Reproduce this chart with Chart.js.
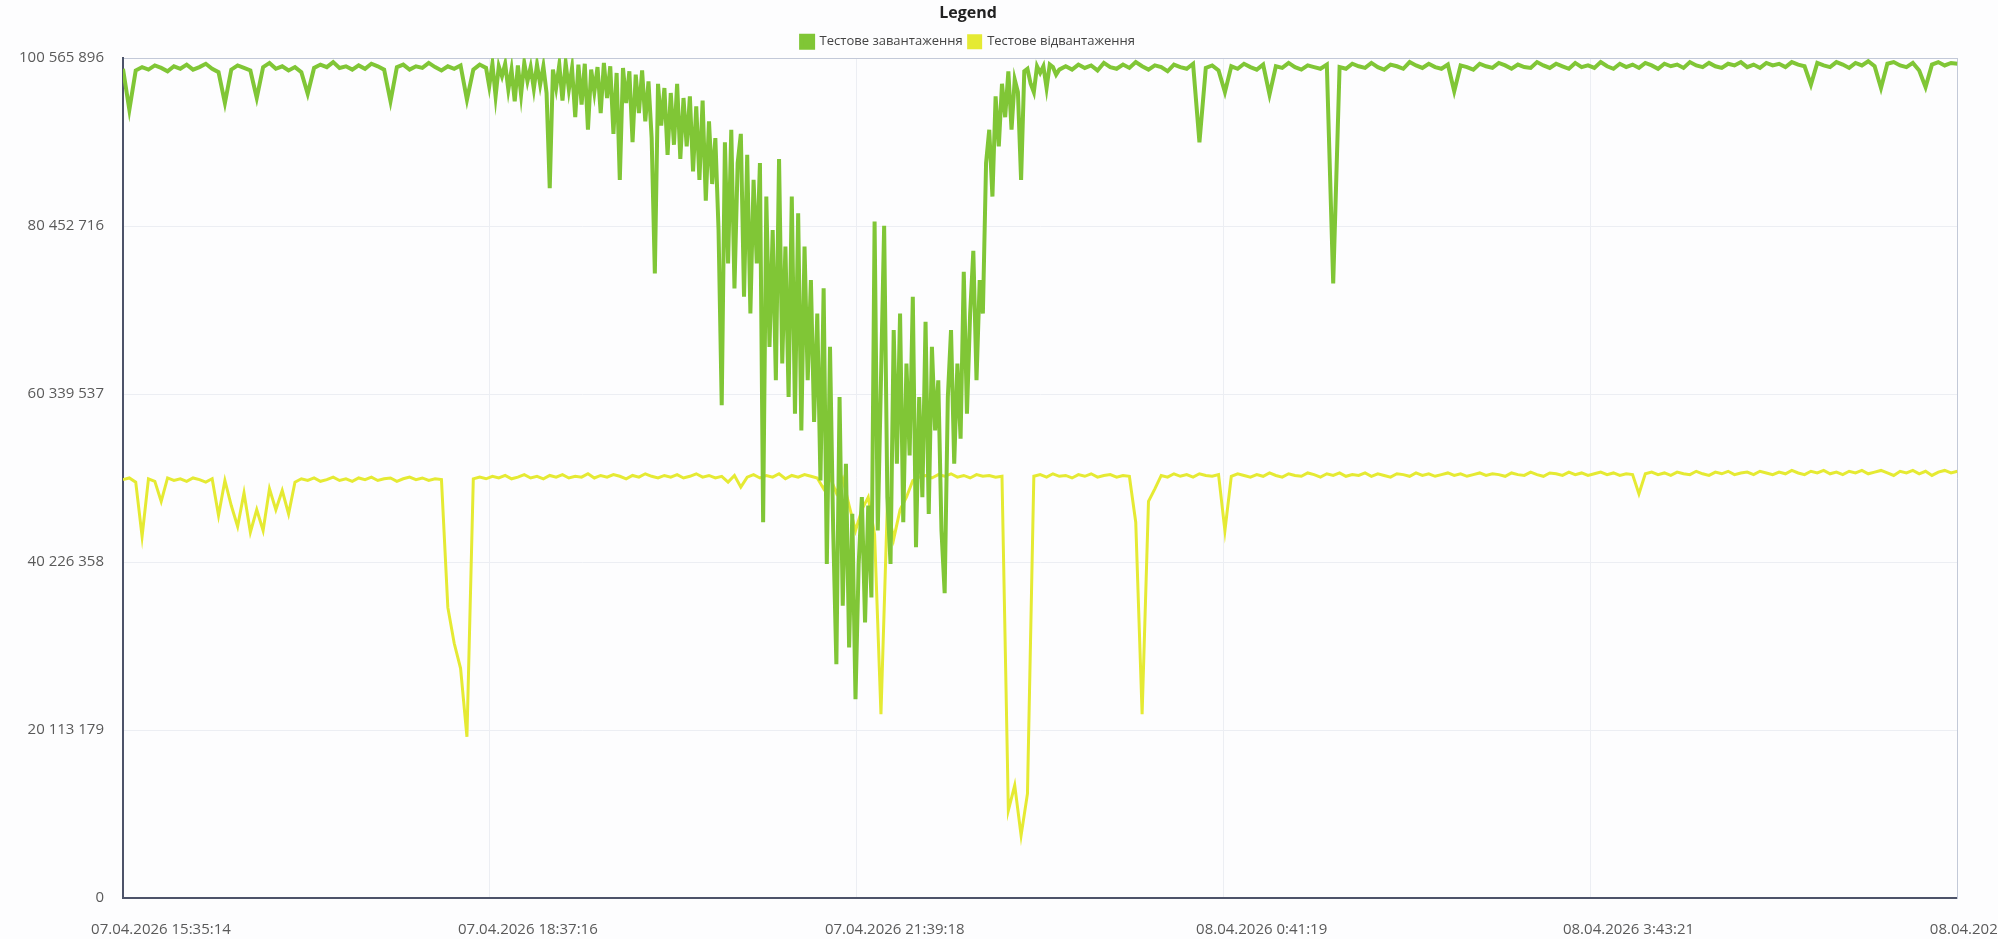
<!DOCTYPE html>
<html>
<head>
<meta charset="utf-8">
<title>Legend</title>
<script src="https://cdn.jsdelivr.net/npm/chart.js@4.4.1/dist/chart.umd.min.js"></script>
<style>
    html, body { margin: 0; padding: 0; background: #fdfdfe; overflow: hidden; }
    #contenedor { width: 2046px; height: 939px; position: relative; }
</style>
</head>
<body>
<div id="contenedor"><canvas id="graficaHistorial"></canvas></div>
<script>
// подписи осей, значения в миллионах
const xTickLabels = [
    "07.04.2026 15:35:14",
    "07.04.2026 18:37:16",
    "07.04.2026 21:39:18",
    "08.04.2026 0:41:19",
    "08.04.2026 3:43:21",
    "08.04.2026 6:45:23",
];
const yTickValues = [0, 20.113179, 40.226358, 60.339537, 80.452716, 100.565896];

const seriesNames = ["Тестове завантаження", "Тестове відвантаження"];

// завантаження: начало (шаг 1), провал (шаг 0.5), конец (шаг 1)
const verdeInicio = [
    99.3, 94.4, 99.1, 99.5, 99.2, 99.7, 99.4, 99.0, 99.6, 99.3,
    99.8, 99.2, 99.5, 99.9, 99.3, 98.9, 95.2, 99.2, 99.7, 99.4,
    99.1, 95.8, 99.5, 100.0, 99.3, 99.6, 99.1, 99.5, 98.9, 96.3,
    99.4, 99.8, 99.5, 100.1, 99.4, 99.6, 99.2, 99.7, 99.3, 99.9,
    99.6, 99.2, 95.4, 99.5, 99.8, 99.2, 99.6, 99.4, 100.0, 99.5,
    99.1, 99.6, 99.3, 99.7, 95.6, 99.2, 99.8
];

const verdeCaos = [
    99.4, 97.2, 99.9, 96.0, 99.6, 98.4, 99.9, 96.8, 99.2, 95.4,
    99.7, 96.2, 100.0, 97.8, 99.5, 96.9, 99.8, 97.4, 99.6, 96.4,
    85.0, 99.2, 97.0, 99.8, 95.5, 100.0, 96.8, 99.4, 93.5, 99.8,
    95.0, 99.9, 92.0, 99.2, 96.5, 99.5, 94.0, 100.0, 95.8, 99.6,
    91.5, 98.8, 86.0, 99.4, 95.2, 99.0, 90.5, 98.6, 94.0, 99.1,
    93.0, 97.8, 91.0, 74.8, 97.5, 92.5, 97.0, 89.0, 96.4, 90.2,
    97.5, 88.5, 95.8, 90.0, 96.0, 87.0, 94.8, 86.0, 95.5, 83.5,
    93.0, 85.5, 91.0, 80.0, 59.0, 90.5, 76.0, 92.0, 73.0, 88.0,
    91.5, 72.0, 89.0, 70.0, 86.0, 76.0, 88.0, 45.0, 84.0, 66.0,
    80.0, 62.0, 88.5, 64.0, 78.0, 60.0, 84.0, 58.0, 82.0, 56.0,
    78.0, 62.0, 74.0, 57.0, 70.0, 50.0, 73.0, 40.0, 66.0, 44.0,
    28.0, 60.0, 35.0, 52.0, 30.0, 46.0, 23.8, 40.0, 48.0, 33.0,
    47.0, 36.0, 81.0, 44.0, 62.0, 80.5, 48.0, 40.0, 68.0, 52.0,
    70.0, 45.0, 64.0, 53.0, 72.0, 42.0, 60.0, 48.0, 69.0, 46.0,
    66.0, 56.0, 62.0, 44.0, 36.5, 60.0, 68.0, 52.0, 64.0, 55.0,
    75.0, 58.0, 70.0, 77.5, 62.0, 74.0, 70.0, 88.0, 92.0, 84.0,
    96.0, 90.0, 97.5, 93.5, 99.0, 92.0, 98.0, 96.5, 86.0, 99.0,
    99.3, 97.5, 96.5, 99.6, 98.8, 99.6, 97.0, 99.8, 99.5, 98.6, 99.2
];

const verdeFin = [
    99.6, 99.2,
    99.8, 99.4, 99.7, 99.1, 100.0, 99.5, 99.3, 99.8, 99.4, 100.1,
    99.6, 99.2, 99.7, 99.5, 99.0, 99.8, 99.5, 99.3, 99.9, 90.5,
    99.4, 99.7, 99.1, 96.5, 99.6, 99.3, 99.9, 99.5, 99.2, 99.8,
    96.2, 99.6, 99.4, 100.0, 99.5, 99.2, 99.7, 99.5, 99.3, 99.8,
    73.6, 99.5, 99.3, 99.9, 99.6, 99.4, 100.0, 99.5, 99.2, 99.8,
    99.6, 99.3, 100.1, 99.7, 99.4, 99.9, 99.5, 99.3, 99.8, 96.6,
    99.7, 99.5, 99.2, 99.9, 99.6, 99.4, 100.0, 99.7, 99.3, 99.8,
    99.5, 99.4, 100.1, 99.7, 99.4, 99.9, 99.6, 99.3, 100.0, 99.5,
    99.7, 99.4, 100.1, 99.6, 99.3, 99.9, 99.5, 99.8, 99.4, 100.0,
    99.7, 99.3, 99.9, 99.6, 99.8, 99.4, 100.1, 99.7, 99.5, 100.0,
    99.6, 99.4, 99.9, 99.7, 100.1, 99.5, 99.8, 99.4, 100.0, 99.7,
    99.9, 99.5, 100.1, 99.8, 99.6, 97.4, 100.0, 99.7, 99.5, 100.1,
    99.8, 99.4, 100.0, 99.7, 100.2, 99.6, 97.0, 99.9, 100.1, 99.7,
    99.5, 100.0, 99.1, 97.1, 99.8, 100.1, 99.7, 100.0, 99.9
];

const vidvantazhennya = [
    50.1, 50.3, 49.8, 43.3, 50.2, 49.9, 47.5, 50.3, 50.0, 50.2,
    49.9, 50.3, 50.1, 49.8, 50.2, 45.8, 50.0, 47.0, 44.5, 48.5,
    43.8, 46.5, 44.0, 49.0, 46.5, 48.8, 46.0, 49.8, 50.2, 50.0,
    50.3, 49.9, 50.1, 50.4, 50.0, 50.2, 49.9, 50.3, 50.1, 50.4,
    50.0, 50.2, 50.3, 49.9, 50.2, 50.4, 50.1, 50.3, 50.0, 50.2,
    50.1, 34.8, 30.5, 27.5, 19.3, 50.2, 50.4, 50.2, 50.5, 50.3,
    50.6, 50.2, 50.4, 50.7, 50.3, 50.5, 50.2, 50.6, 50.4, 50.7,
    50.3, 50.5, 50.4, 50.8, 50.3, 50.6, 50.4, 50.7, 50.5, 50.2,
    50.6, 50.4, 50.8, 50.5, 50.3, 50.6, 50.4, 50.7, 50.3, 50.5,
    50.8, 50.4, 50.6, 50.3, 50.5, 49.8, 50.6, 49.2, 50.4, 50.7,
    50.3, 50.6, 50.4, 50.8, 50.2, 50.6, 50.4, 50.7, 50.5, 50.3,
    49.0, 50.4, 48.5, 50.2, 47.0, 44.0, 46.5, 48.0, 43.5, 22.0,
    47.0, 43.0, 46.5, 48.0, 50.0, 50.4, 50.6, 50.3, 50.7, 50.5,
    50.8, 50.4, 50.6, 50.3, 50.7, 50.5, 50.6, 50.4, 50.5, 10.5,
    13.5, 7.5, 12.5, 50.5, 50.7, 50.4, 50.8, 50.5, 50.6, 50.3,
    50.7, 50.5, 50.8, 50.4, 50.6, 50.7, 50.4, 50.6, 50.5, 45.0,
    22.0, 47.5, 49.0, 50.6, 50.4, 50.8, 50.5, 50.7, 50.4, 50.8,
    50.6, 50.5, 50.7, 44.0, 50.5, 50.8, 50.6, 50.4, 50.7, 50.5,
    50.9, 50.6, 50.4, 50.8, 50.6, 50.5, 50.9, 50.7, 50.4, 50.8,
    50.6, 50.9, 50.5, 50.7, 50.6, 50.9, 50.5, 50.8, 50.6, 50.4,
    50.8, 50.7, 50.5, 50.9, 50.6, 50.8, 50.5, 50.7, 50.9, 50.6,
    50.8, 50.5, 50.7, 50.9, 50.6, 50.8, 50.7, 50.5, 50.9, 50.7,
    50.6, 51.0, 50.7, 50.5, 50.9, 50.8, 50.6, 51.0, 50.7, 50.9,
    50.6, 50.8, 51.0, 50.7, 50.9, 50.6, 50.8, 50.7, 48.4, 50.8,
    51.0, 50.7, 50.9, 50.6, 51.0, 50.8, 50.7, 51.1, 50.8, 50.6,
    51.0, 50.8, 51.1, 50.7, 50.9, 51.0, 50.7, 51.1, 50.9, 50.7,
    51.0, 50.8, 51.2, 50.9, 50.7, 51.1, 50.9, 51.2, 50.8, 51.0,
    50.7, 51.1, 50.9, 51.2, 50.8, 51.0, 51.2, 50.9, 50.6, 51.1,
    50.9, 51.2, 50.8, 51.1, 50.6, 51.0, 51.2, 50.9, 51.1
];

const colorVerde = "#80c636";
const colorAmarillo = "#e5ea33";

function formatearNumero(v) {
    return String(Math.round(v * 1e6)).replace(/\B(?=(\d{3})+(?!\d))/g, " ");
}

const ultimoIndice = vidvantazhennya.length - 1;
const inicioCaos = verdeInicio.length;
const inicioFin = inicioCaos + (verdeCaos.length - 1) / 2 + 1;

const puntosVerde = [
    ...verdeInicio.map((v, i) => ({ x: i, y: v })),
    ...verdeCaos.map((v, k) => ({ x: inicioCaos + k / 2, y: v })),
    ...verdeFin.map((v, j) => ({ x: inicioFin + j, y: v })),
];
const puntosAmarillo = vidvantazhennya.map((v, i) => ({ x: i, y: v }));

// la leyenda del original no esta centrada en el lienzo, se corre un poco a la izquierda
const moverLeyenda = {
    id: "moverLeyenda",
    afterLayout(chart) {
        const leyenda = chart.legend;
        if (!leyenda) return;
        leyenda.left -= 55;
        leyenda.right -= 55;
    },
};

const ctx = document.getElementById("graficaHistorial");
const grafica = new Chart(ctx, {
    type: "line",
    data: {
        datasets: [
            {
                label: seriesNames[0],
                data: puntosVerde,
                borderColor: colorVerde,
                backgroundColor: colorVerde,
                borderWidth: 4,
                pointRadius: 0,
                tension: 0,
            },
            {
                label: seriesNames[1],
                data: puntosAmarillo,
                borderColor: colorAmarillo,
                backgroundColor: colorAmarillo,
                borderWidth: 3,
                pointRadius: 0,
                tension: 0,
            },
        ],
    },
    plugins: [moverLeyenda],
    options: {
        responsive: true,
        maintainAspectRatio: false,
        animation: false,
        layout: { padding: { left: 0, right: 0, top: 5, bottom: 0 } },
        plugins: {
            tooltip: { enabled: false },
            legend: {
                position: "top",
                title: {
                    display: true,
                    text: "Legend",
                    color: "#222",
                    font: { family: "Open Sans", size: 16, weight: "bold" },
                    padding: { top: 0, bottom: 5 },
                },
                labels: {
                    boxWidth: 12,
                    boxHeight: 12,
                    padding: 6,
                    color: "#444",
                    font: { family: "Open Sans", size: 13 },
                },
            },
        },
        scales: {
            x: {
                type: "linear",
                min: 0,
                max: ultimoIndice,
                afterBuildTicks: (axis) => {
                    axis.ticks = xTickLabels.map((t, k) => ({ value: (k * ultimoIndice) / (xTickLabels.length - 1) }));
                },
                afterFit: (axis) => { axis.height = 41; },
                grid: { color: "#eceef3", drawTicks: false },
                border: { color: "#4d5369", width: 2 },
                ticks: {
                    autoSkip: false,
                    maxRotation: 0,
                    labelOffset: 38,
                    padding: 23,
                    color: "#5a5a5a",
                    font: { family: "Open Sans", size: 15 },
                    callback: (value, index) => xTickLabels[index],
                },
            },
            x2: {
                type: "linear",
                position: "top",
                grid: { display: false, drawTicks: false },
                border: { color: "#c3c9d8", width: 1 },
                ticks: { display: false },
            },
            y: {
                min: 0,
                max: yTickValues[yTickValues.length - 1],
                afterBuildTicks: (axis) => {
                    axis.ticks = yTickValues.map((v) => ({ value: v }));
                },
                grid: { color: "#eceef3", drawTicks: false },
                border: { color: "#4d5369", width: 2 },
                ticks: {
                    padding: 19,
                    color: "#5a5a5a",
                    font: { family: "Open Sans", size: 15 },
                    callback: (value) => formatearNumero(value),
                },
            },
            y2: {
                position: "right",
                grid: { display: false, drawTicks: false },
                border: { color: "#c3c9d8", width: 1 },
                ticks: { display: false },
            },
        },
    },
});
</script>
</body>
</html>
